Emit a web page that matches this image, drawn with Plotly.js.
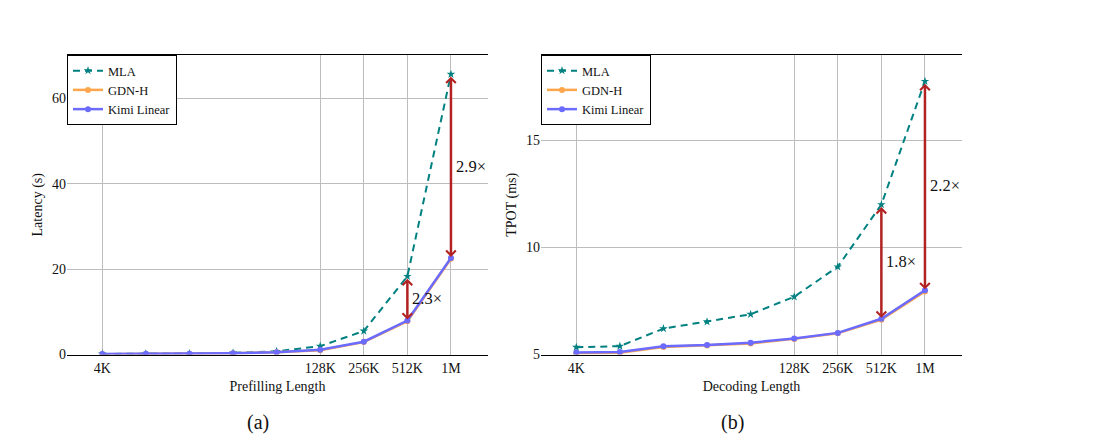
<!DOCTYPE html>
<html>
<head>
<meta charset="utf-8">
<script src="https://cdn.plot.ly/plotly-3.0.1.min.js"></script>
<style>
  html, body { margin: 0; padding: 0; background: #ffffff; }
  #chart { width: 1110px; height: 440px; }
</style>
</head>
<body>
<div id="chart"></div>
<script>
// Sequence lengths (tokens) and the labelled ticks on the length axis
const lengths = [4096, 8192, 16384, 32768, 65536, 131072, 262144, 524288, 1048576];
const tickVals = [4096, 131072, 262144, 524288, 1048576];
const tickText = ['4K', '128K', '256K', '512K', '1M'];

// (a) prefilling latency, seconds
const prefillMLA  = [0.12, 0.18, 0.25, 0.38, 0.75, 1.95, 5.5, 18.3, 65.6];
const prefillGDN  = [0.08, 0.12, 0.18, 0.28, 0.50, 1.00, 2.9, 7.8, 22.4];
const prefillKimi = [0.10, 0.15, 0.20, 0.30, 0.55, 1.10, 3.0, 7.95, 22.6];

// (b) decoding time per output token, ms
const decodeMLA  = [5.34, 5.39, 6.21, 6.53, 6.88, 7.70, 9.10, 12.01, 17.77];
const decodeGDN  = [5.06, 5.08, 5.35, 5.42, 5.52, 5.73, 5.99, 6.63, 7.95];
const decodeKimi = [5.09, 5.12, 5.39, 5.44, 5.55, 5.75, 6.01, 6.67, 8.00];

// Lengths at which the speed-up of Kimi Linear over MLA is marked
const markedPrefill = [524288, 1048576];
const markedDecode  = [524288, 1048576];

const SERIF = 'Liberation Serif, Times New Roman, serif';
const TEAL = '#008080';
const ORANGE = '#ffa64d';
const VIOLET = '#6b6bff';
const RED = '#b22222';
const GRID = '#bdbdbd';

function series(xa, ya, legend, mla, gdn, kimi) {
  return [
    { x: lengths, y: mla, name: 'MLA', xaxis: xa, yaxis: ya, legend: legend,
      mode: 'lines+markers', line: { color: TEAL, width: 2, dash: '7px,5px' },
      marker: { symbol: 'star', size: 6.5, color: TEAL } },
    { x: lengths, y: gdn, name: 'GDN-H', xaxis: xa, yaxis: ya, legend: legend,
      mode: 'lines+markers', line: { color: ORANGE, width: 2.5 },
      marker: { symbol: 'circle', size: 6, color: ORANGE } },
    { x: lengths, y: kimi, name: 'Kimi Linear', xaxis: xa, yaxis: ya, legend: legend,
      mode: 'lines+markers', line: { color: VIOLET, width: 2.5 },
      marker: { symbol: 'circle', size: 6, color: VIOLET } }
  ];
}

const traces = [].concat(
  series('x', 'y', 'legend', prefillMLA, prefillGDN, prefillKimi),
  series('x2', 'y2', 'legend2', decodeMLA, decodeGDN, decodeKimi)
);

// Double-headed arrows between MLA and Kimi Linear, with the ratio beside them
function speedups(xa, ya, marked, mla, kimi) {
  const out = [];
  marked.forEach(function (len) {
    const i = lengths.indexOf(len);
    const lx = Math.log10(len);
    out.push({
      xref: xa, yref: ya, axref: xa, ayref: ya,
      x: lx, y: kimi[i], ax: lx, ay: mla[i],
      text: '', showarrow: true, arrowside: 'end+start',
      arrowhead: 4, startarrowhead: 4, arrowsize: 0.75, startarrowsize: 0.75,
      arrowwidth: 2.5, arrowcolor: RED, standoff: 1, startstandoff: 1
    });
    out.push({
      xref: xa, yref: ya, x: lx, y: (mla[i] + kimi[i]) / 2,
      text: (mla[i] / kimi[i]).toFixed(1) + '×', showarrow: false,
      xanchor: 'left', yanchor: 'middle', xshift: 3,
      font: { family: SERIF, size: 16.5, color: '#111' }
    });
  });
  return out;
}

const octave = Math.log10(2);
const xRange = [Math.log10(4096) - 0.81 * octave, Math.log10(1048576) + 0.85 * octave];
const tickFont = { family: SERIF, size: 14, color: '#111' };
const titleFont = { family: SERIF, size: 14, color: '#111' };

function xAxis(domain, anchor, title) {
  return {
    type: 'log', range: xRange, domain: domain, anchor: anchor,
    tickmode: 'array', tickvals: tickVals, ticktext: tickText,
    showgrid: true, gridcolor: GRID, gridwidth: 1, zeroline: false,
    showline: true, mirror: true, linecolor: '#000', linewidth: 1.2,
    ticks: '', tickfont: tickFont, automargin: false,
    title: { text: title, font: titleFont, standoff: 6 }
  };
}
function yAxis(domain, anchor, range, vals, title) {
  return {
    range: range, domain: domain, anchor: anchor,
    tickmode: 'array', tickvals: vals,
    showgrid: true, gridcolor: GRID, gridwidth: 1, zeroline: false,
    showline: false, ticks: '', tickfont: tickFont, automargin: false,
    title: { text: title, font: titleFont, standoff: 6 }
  };
}

const leftDom = [67 / 1110, 488 / 1110];
const rightDom = [541 / 1110, 962 / 1110];
const yDom = [1 - 354.5 / 440, 1 - 55 / 440];

function legendAt(x) {
  return {
    x: x, y: yDom[1], xref: 'paper', yref: 'paper', xanchor: 'left', yanchor: 'top',
    bgcolor: '#ffffff', bordercolor: '#000', borderwidth: 1,
    font: { family: SERIF, size: 12.5, color: '#111' },
    tracegroupgap: 0, itemwidth: 30
  };
}

const layout = {
  width: 1110, height: 440,
  margin: { l: 0, r: 0, t: 0, b: 0 },
  paper_bgcolor: '#ffffff', plot_bgcolor: '#ffffff',
  showlegend: true,
  legend: legendAt(leftDom[0]),
  legend2: legendAt(rightDom[0]),
  xaxis: xAxis(leftDom, 'y', 'Prefilling Length'),
  yaxis: yAxis(yDom, 'x', [0, 70.1], [0, 20, 40, 60], 'Latency (s)'),
  xaxis2: xAxis(rightDom, 'y2', 'Decoding Length'),
  yaxis2: yAxis(yDom, 'x2', [5, 19.0], [5, 10, 15], 'TPOT (ms)'),
  annotations: [].concat(
    speedups('x', 'y', markedPrefill, prefillMLA, prefillKimi),
    speedups('x2', 'y2', markedDecode, decodeMLA, decodeKimi),
    [
      { text: '(a)', xref: 'paper', yref: 'paper', x: 257.5 / 1110, y: 1 - 422 / 440,
        showarrow: false, xanchor: 'center', yanchor: 'middle',
        font: { family: SERIF, size: 20, color: '#111' } },
      { text: '(b)', xref: 'paper', yref: 'paper', x: 732 / 1110, y: 1 - 422 / 440,
        showarrow: false, xanchor: 'center', yanchor: 'middle',
        font: { family: SERIF, size: 20, color: '#111' } }
    ]
  )
};

Plotly.newPlot('chart', traces, layout, { staticPlot: true, displayModeBar: false });
</script>
</body>
</html>
